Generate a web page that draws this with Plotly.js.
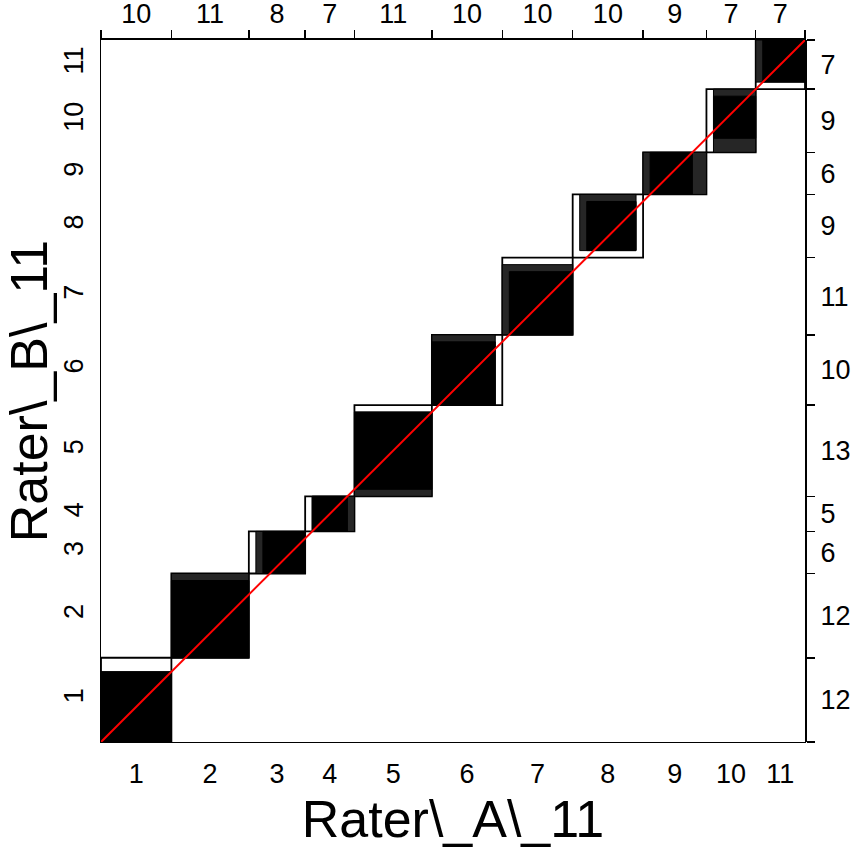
<!DOCTYPE html>
<html>
<head>
<meta charset="utf-8">
<script src="https://cdn.plot.ly/plotly-3.0.1.min.js"></script>
<style>html,body{margin:0;padding:0;background:#fff;}#chart{width:856px;height:857px;}</style>
</head>
<body>
<div id="chart"></div>
<script>
// Categories (1..11) for both raters
const categories = ["1","2","3","4","5","6","7","8","9","10","11"];
// Contingency table: rows = Rater_B (y), columns = Rater_A (x)
const row1  = [10, 0, 1, 1, 0, 0, 0, 0, 0, 0, 0];
const row2  = [ 0,11, 1, 0, 0, 0, 0, 0, 0, 0, 0];
const row3  = [ 0, 0, 6, 0, 0, 0, 0, 0, 0, 0, 0];
const row4  = [ 0, 0, 0, 5, 0, 0, 0, 0, 0, 0, 0];
const row5  = [ 0, 0, 0, 1,11, 0, 0, 1, 0, 0, 0];
const row6  = [ 0, 0, 0, 0, 0, 9, 1, 0, 0, 0, 0];
const row7  = [ 0, 0, 0, 0, 0, 0, 9, 1, 0, 1, 0];
const row8  = [ 0, 0, 0, 0, 0, 1, 0, 7, 1, 0, 0];
const row9  = [ 0, 0, 0, 0, 0, 0, 0, 0, 6, 0, 0];
const row10 = [ 0, 0, 0, 0, 0, 0, 0, 0, 2, 6, 1];
const row11 = [ 0, 0, 0, 0, 0, 0, 0, 1, 0, 0, 6];
const counts = [row1,row2,row3,row4,row5,row6,row7,row8,row9,row10,row11];
const xTitle = "Rater\\_A\\_11";
const yTitle = "Rater\\_B\\_11";

const n = categories.length;
const colTot = categories.map((_, j) => counts.reduce((s, r) => s + r[j], 0));
const rowTot = counts.map(r => r.reduce((s, v) => s + v, 0));
const N = rowTot.reduce((a, b) => a + b, 0);
const xc = [0]; colTot.forEach(v => xc.push(xc[xc.length-1] + v));
const yc = [0]; rowTot.forEach(v => yc.push(yc[yc.length-1] + v));
const xMid = colTot.map((v, i) => xc[i] + v/2);
const yMid = rowTot.map((v, i) => yc[i] + v/2);

function rectPath(px, py, x0, y0, w, h) {
  px.push(x0, x0+w, x0+w, x0, x0, null);
  py.push(y0, y0, y0+h, y0+h, y0, null);
}
function sum(arr) { return arr.reduce((a,b)=>a+b,0); }

const wx=[], wy=[], gx=[], gy=[], bx=[], by=[];
for (let i = 0; i < n; i++) {
  rectPath(wx, wy, xc[i], yc[i], colTot[i], rowTot[i]);
  [2, 1].forEach(b => {
    const lb = Math.max(0, i - b + 1), ub = Math.min(n - 1, i + b - 1);
    const colI = counts.map(r => r[i]);
    const rowI = counts[i];
    const x0 = xc[i] + sum(colI.slice(0, lb));
    const y0 = yc[i] + sum(rowI.slice(0, lb));
    const w = sum(colI.slice(lb, ub + 1));
    const h = sum(rowI.slice(lb, ub + 1));
    if (b === 2) rectPath(gx, gy, x0, y0, w, h); else rectPath(bx, by, x0, y0, w, h);
  });
}

const traces = [
  {x: wx, y: wy, type: 'scatter', mode: 'lines', fill: 'toself', fillcolor: '#ffffff',
   line: {color: '#000', width: 1.8}, hoverinfo: 'skip', showlegend: false},
  {x: gx, y: gy, type: 'scatter', mode: 'lines', fill: 'toself', fillcolor: '#262626',
   line: {color: '#000', width: 1}, hoverinfo: 'skip', showlegend: false},
  {x: bx, y: by, type: 'scatter', mode: 'lines', fill: 'toself', fillcolor: '#000000',
   line: {color: '#000', width: 1}, hoverinfo: 'skip', showlegend: false},
  {x: [0, N], y: [0, N], type: 'scatter', mode: 'lines', line: {color: '#ff0000', width: 2},
   hoverinfo: 'skip', showlegend: false},
  {x: [0], y: [0], xaxis: 'x2', yaxis: 'y', mode: 'markers', marker: {opacity: 0}, hoverinfo: 'skip', showlegend: false},
  {x: [0], y: [0], xaxis: 'x3', yaxis: 'y', mode: 'markers', marker: {opacity: 0}, hoverinfo: 'skip', showlegend: false},
  {x: [0], y: [0], xaxis: 'x', yaxis: 'y2', mode: 'markers', marker: {opacity: 0}, hoverinfo: 'skip', showlegend: false},
  {x: [0], y: [0], xaxis: 'x', yaxis: 'y3', mode: 'markers', marker: {opacity: 0}, hoverinfo: 'skip', showlegend: false}
];

const FONT = 'Liberation Sans, Arial, sans-serif';
const tickFont = {family: FONT, size: 27, color: '#000'};
const layout = {
  width: 856, height: 857,
  margin: {l: 101, r: 51, t: 40, b: 115},
  paper_bgcolor: '#fff', plot_bgcolor: '#fff',
  showlegend: false,
  xaxis: {range: [0, N], showgrid: false, zeroline: false, fixedrange: true,
    tickmode: 'array', tickvals: xMid, ticktext: categories,
    ticks: 'outside', ticklen: 8, tickcolor: 'rgba(0,0,0,0)', tickfont: tickFont,
    showline: true, linecolor: '#000', linewidth: 1, mirror: true,
    title: {text: xTitle, font: {family: FONT, size: 52, color: '#000'}, standoff: 12}},
  yaxis: {range: [0, N], showgrid: false, zeroline: false, fixedrange: true,
    tickmode: 'array', tickvals: yMid, ticktext: categories, tickangle: -90,
    ticks: 'outside', ticklen: 6, tickcolor: 'rgba(0,0,0,0)', tickfont: tickFont,
    showline: true, linecolor: '#000', linewidth: 1, mirror: true,
    title: {text: yTitle, font: {family: FONT, size: 52, color: '#000'}, standoff: 11}},
  xaxis2: {overlaying: 'x', side: 'top', anchor: 'y', range: [0, N], showgrid: false, zeroline: false,
    tickmode: 'array', tickvals: xc, ticktext: xc.map(() => ''),
    ticks: 'outside', ticklen: 8, tickwidth: 1.5, tickcolor: '#000',
    showline: true, linecolor: '#000', linewidth: 2},
  xaxis3: {overlaying: 'x', side: 'top', anchor: 'y', range: [0, N], showgrid: false, zeroline: false,
    tickmode: 'array', tickvals: xMid, ticktext: colTot.map(String),
    ticks: 'outside', ticklen: 5, tickcolor: 'rgba(0,0,0,0)', tickfont: tickFont, showline: false},
  yaxis2: {overlaying: 'y', side: 'right', anchor: 'x', range: [0, N], showgrid: false, zeroline: false,
    tickmode: 'array', tickvals: yc, ticktext: yc.map(() => ''),
    ticks: 'outside', ticklen: 8, tickwidth: 1.5, tickcolor: '#000',
    showline: true, linecolor: '#000', linewidth: 2},
  yaxis3: {overlaying: 'y', side: 'right', anchor: 'x', range: [0, N], showgrid: false, zeroline: false,
    tickmode: 'array', tickvals: yMid, ticktext: rowTot.map(String),
    ticks: 'outside', ticklen: 9, tickcolor: 'rgba(0,0,0,0)', tickfont: tickFont, showline: false}
};

Plotly.newPlot('chart', traces, layout, {staticPlot: true, displayModeBar: false});
</script>
</body>
</html>
